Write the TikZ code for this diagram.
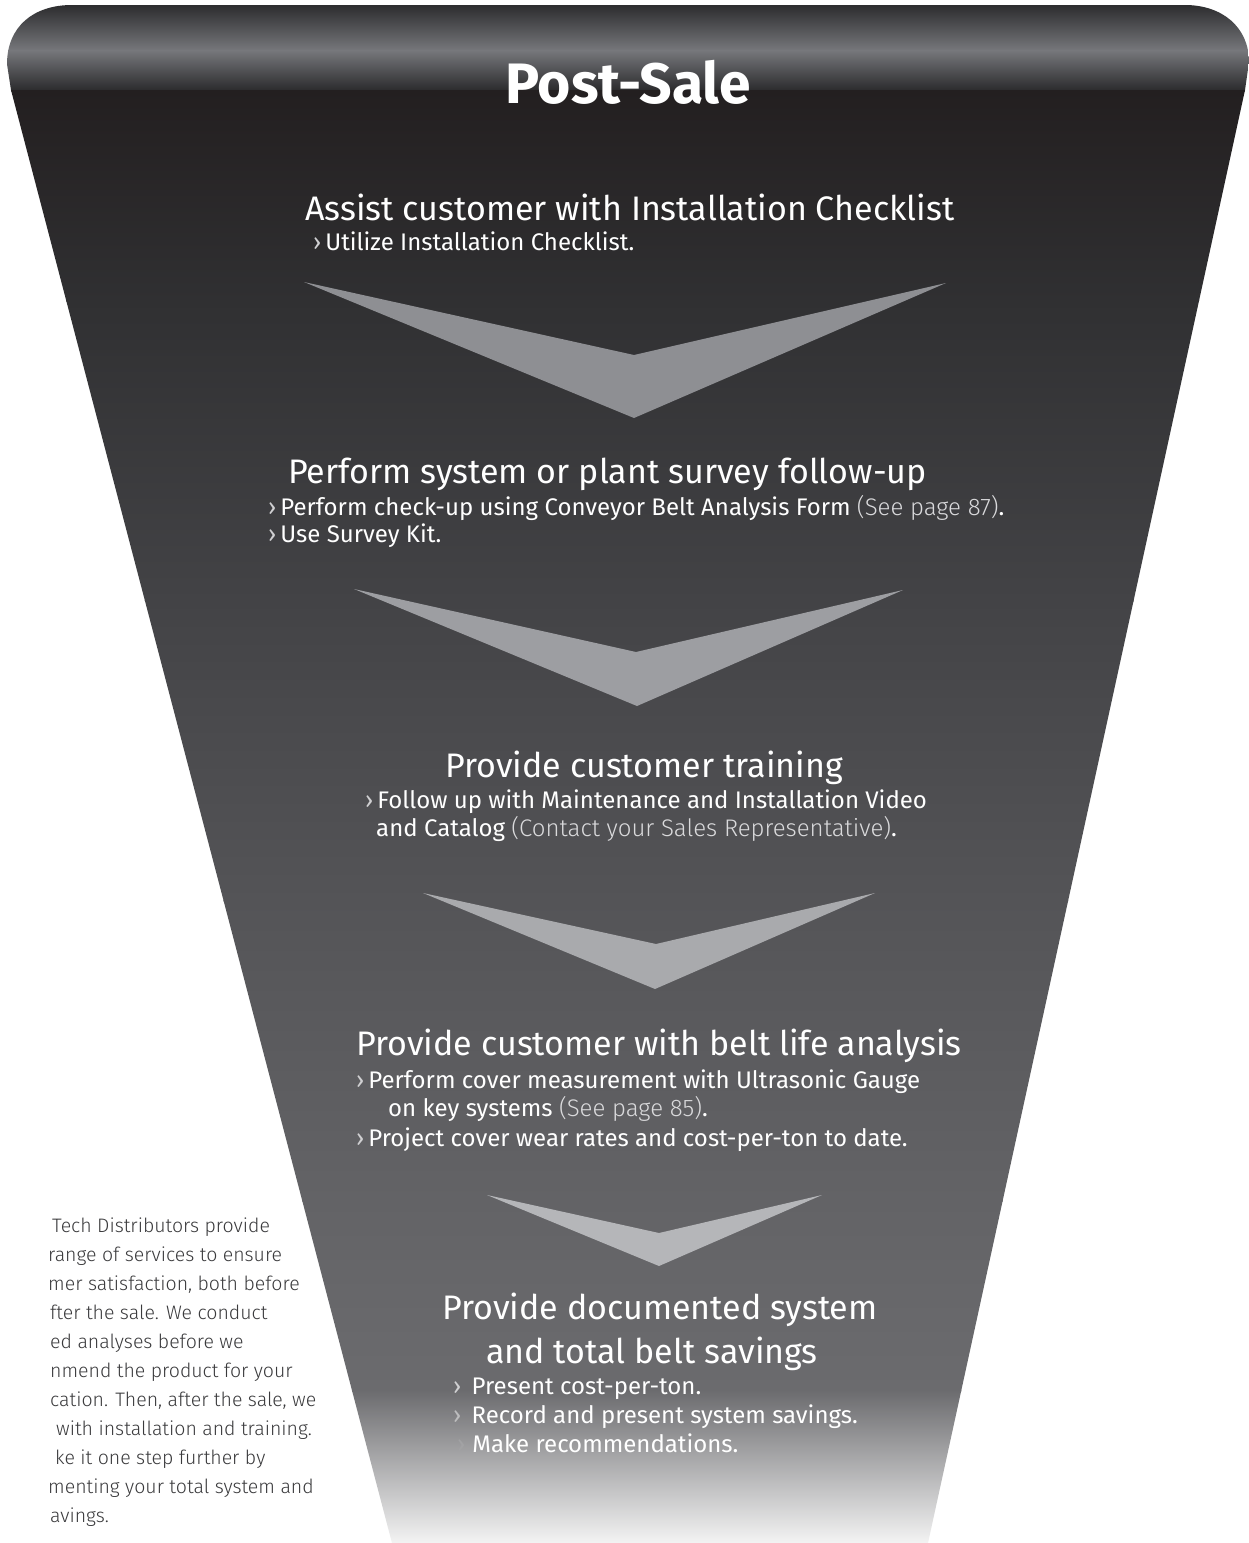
\documentclass[tikz,border=0pt]{standalone}
\usepackage{fontspec}
\setmainfont{Fira Sans}
\newfontfamily\lightfont{Fira Sans Light}
\definecolor{band0}{HTML}{2B2B2D}
\definecolor{band1}{HTML}{77787C}
\definecolor{band2}{HTML}{2A2A2C}
\definecolor{body0}{HTML}{231F20}
\definecolor{body1}{HTML}{303032}
\definecolor{body2}{HTML}{434346}
\definecolor{body3}{HTML}{545457}
\definecolor{body4}{HTML}{636366}
\definecolor{body5}{HTML}{6B6B6E}
\definecolor{body6}{HTML}{F4F4F4}
\definecolor{chevA}{HTML}{8E8F93}
\definecolor{chevB}{HTML}{9D9EA2}
\definecolor{chevC}{HTML}{A9AAAD}
\definecolor{chevD}{HTML}{B5B6B9}
\definecolor{soft}{HTML}{DADADC}
\definecolor{bulc}{HTML}{D0D0D2}
\definecolor{paratext}{HTML}{3A3A3C}
\tikzset{
  head/.style={text=white, font=\fontsize{34}{40}\selectfont, inner sep=0pt, anchor=base west},
  item/.style={text=white, font=\fontsize{24}{28}\selectfont, inner sep=0pt, anchor=base west},
  para/.style={text=paratext, font=\lightfont\fontsize{19.5}{29}\selectfont, inner sep=0pt, anchor=base west},
  title/.style={text=white, font=\bfseries\fontsize{57}{64}\selectfont, inner sep=0pt, anchor=base},
}
\newcommand{\bul}[1][bulc]{\textcolor{#1}{›}\hspace{4pt}}
\newcommand{\soft}[1]{{\lightfont\color{soft}#1}}
\begin{document}
\begin{tikzpicture}[x=1pt,y=-1pt]
\useasboundingbox (0,0) rectangle (1249,1543);
\fill[white] (0,0) rectangle (1249,1543);
% funnel
\begin{scope}
\clip (392,1543) -- (11,90) -- (7,64) .. controls (7,27) and (33,5) .. (72,5)
  -- (1185,5) .. controls (1222,5) and (1249,27) .. (1249,62) -- (1245,90) -- (928,1543) -- cycle;
\shade[top color=band0, bottom color=band1] (0,4) rectangle (1249,51);
\shade[top color=band1, bottom color=band2] (0,50) rectangle (1249,91);
\shade[top color=body0, bottom color=body1] (0,90) rectangle (1249,301);
\shade[top color=body1, bottom color=body2] (0,300) rectangle (1249,601);
\shade[top color=body2, bottom color=body3] (0,600) rectangle (1249,901);
\shade[top color=body3, bottom color=body4] (0,900) rectangle (1249,1201);
\shade[top color=body4, bottom color=body5] (0,1200) rectangle (1249,1391);
\shade[top color=body5, bottom color=body6] (0,1390) rectangle (1249,1544);
\end{scope}
% chevrons
\fill[chevA] (304,282) -- (634,355) -- (946,283) -- (634,418) -- cycle;
\fill[chevB] (354,589) -- (636,652) -- (903,590) -- (637,706) -- cycle;
\fill[chevC] (423,893) -- (656,944) -- (875,893) -- (655,989) -- cycle;
\fill[chevD] (487,1195) -- (659,1233) -- (822,1195) -- (659,1266) -- cycle;
% title
\node[title] (title) at (628,103) {Post-Sale};
% step 1
\node[head] (h1) at (305,220) {Assist customer with Installation Checklist};
\node[item] (h1a) at (313,250) {\bul Utilize Installation Checklist.};
% step 2
\node[head] (h2) at (288,483) {Perform system or plant survey follow-up};
\node[item] (h2a) at (268,515) {\bul Perform check-up using Conveyor Belt Analysis Form \soft{(See page 87)}.};
\node[item] (h2b) at (268,542) {\bul Use Survey Kit.};
% step 3
\node[head] (h3) at (445,777) {Provide customer training};
\node[item] (h3a) at (365,808) {\bul Follow up with Maintenance and Installation Video};
\node[item] (h3b) at (376,836) {and Catalog \soft{(Contact your Sales Representative)}.};
% step 4
\node[head] (h4) at (356,1055) {Provide customer with belt life analysis};
\node[item] (h4a) at (356,1088) {\bul Perform cover measurement with Ultrasonic Gauge};
\node[item] (h4b) at (388,1116) {on key systems \soft{(See page 85)}.};
\node[item] (h4c) at (356,1146) {\bul Project cover wear rates and cost-per-ton to date.};
% step 5
\node[head] (h5) at (442,1319) {Provide documented system};
\node[head] (h5b) at (486,1363) {and total belt savings};
\node[item] (h5c) at (453,1394) {\bul[bulc] Present cost-per-ton.};
\node[item] (h5d) at (453,1423) {\bul[body6!60!body5] Record and present system savings.};
\node[item] (h5e) at (457,1452) {\bul[body6!40!body5]\hspace{3pt}Make recommendations.};
% side paragraph
\node[para] (p1) at (52,1232) {Tech Distributors provide};
\node[para] (p2) at (48,1261) {range of services to ensure};
\node[para] (p3) at (48,1290) {mer satisfaction, both before};
\node[para] (p4) at (50,1319) {fter the sale. We conduct};
\node[para] (p5) at (50,1348) {ed analyses before we};
\node[para] (p6) at (50,1377) {nmend the product for your};
\node[para] (p7) at (50,1406) {cation. Then, after the sale, we};
\node[para] (p8) at (56,1435) {with installation and training.};
\node[para] (p9) at (55,1464) {ke it one step further by};
\node[para] (p10) at (48,1493) {menting your total system and};
\node[para] (p11) at (50,1522) {avings.};
\end{tikzpicture}
\end{document}
